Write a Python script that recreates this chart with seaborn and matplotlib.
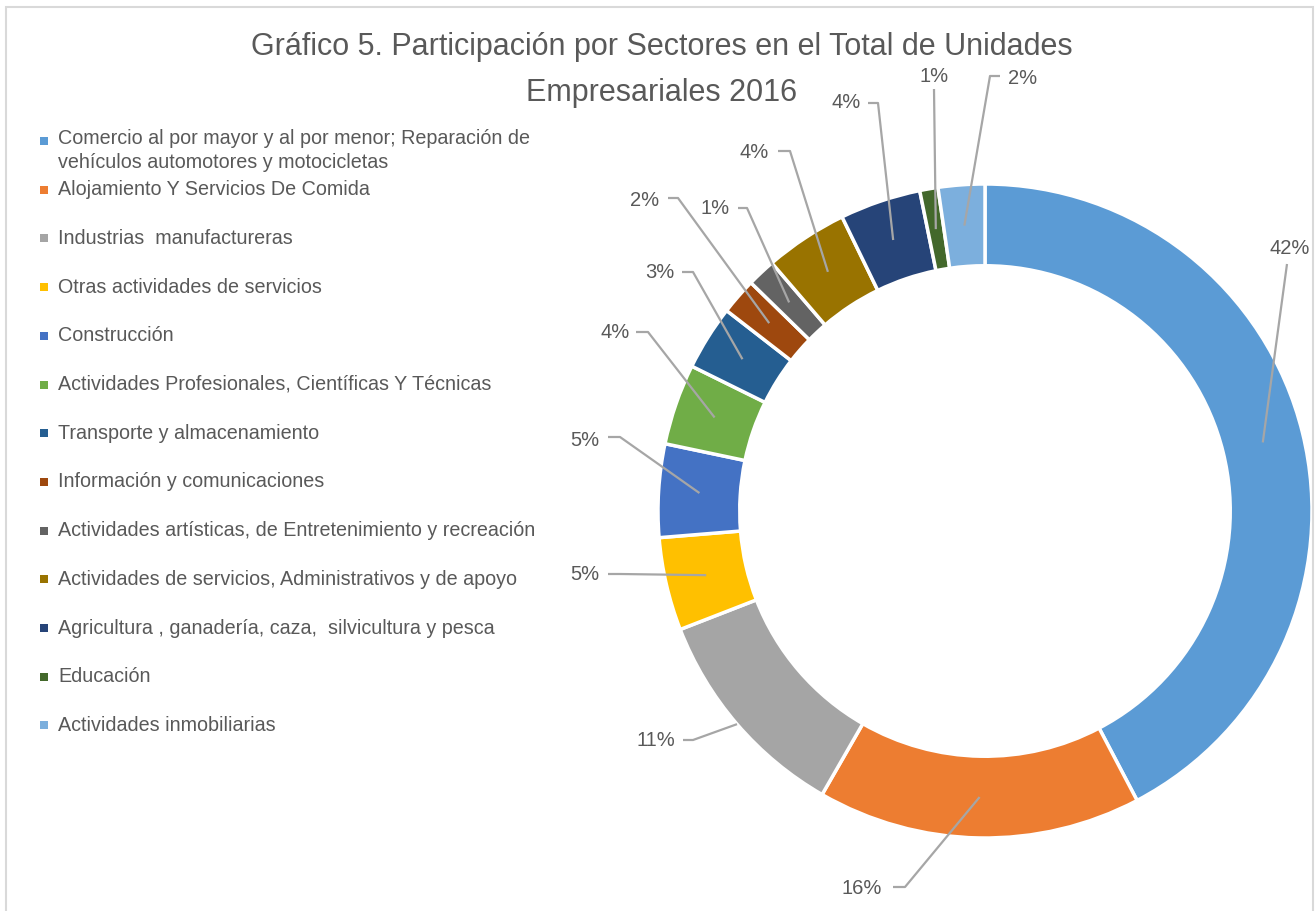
import matplotlib
matplotlib.use('Agg')
import matplotlib.pyplot as plt
from matplotlib import font_manager
from matplotlib.patches import Rectangle
import numpy as np
import seaborn as sns

sectores = [
    'Comercio al por mayor y al por menor; Reparación de\nvehículos automotores y motocicletas',
    'Alojamiento Y Servicios De Comida',
    'Industrias  manufactureras',
    'Otras actividades de servicios',
    'Construcción',
    'Actividades Profesionales, Científicas Y Técnicas',
    'Transporte y almacenamiento',
    'Información y comunicaciones',
    'Actividades artísticas, de Entretenimiento y recreación',
    'Actividades de servicios, Administrativos y de apoyo',
    'Agricultura , ganadería, caza,  silvicultura y pesca',
    'Educación',
    'Actividades inmobiliarias',
]
participacion = [42.3, 16.0, 10.8, 4.6, 4.6, 4.0, 3.2, 1.8, 1.4, 4.1, 4.0, 0.9, 2.3]
colores = ['#5B9BD5', '#ED7D31', '#A5A5A5', '#FFC000', '#4472C4', '#70AD47', '#255E91',
           '#9E480E', '#636363', '#997300', '#264478', '#43682B', '#7CAFDD']

titulo = ['Gráfico 5. Participación por Sectores en el Total de Unidades',
          'Empresariales 2016']

W, H = 1315, 911
CX, CY, R = 985, 511, 327   # centro y radio del anillo, en px
GRIS = '#595959'

names = {f.name for f in font_manager.fontManager.ttflist}
fuente = 'Liberation Sans Narrow' if 'Liberation Sans Narrow' in names else 'Liberation Sans'

sns.set_theme(style='white')
plt.rcParams['font.family'] = [fuente, 'DejaVu Sans']


def P(px, py):
    """px de la imagen -> unidades del pastel"""
    return (px - CX) / R, (CY - py) / R


# posición de etiquetas: texto, codo, fin del tramo horizontal, radio del ancla
etiquetas_layout = [
    ((1290, 248), (1287, 264), None, 0.875),
    ((862, 888), (905, 887), (893, 887), 0.875),
    ((656, 740), (693, 740), (683, 740), 1.0),
    ((585, 574), (620, 574), (608, 574), 0.875),
    ((585, 440), (620, 437), (608, 437), 0.875),
    ((615, 332), (648, 332), (636, 332), 0.875),
    ((660, 272), (693, 272), (682, 272), 0.875),
    ((645, 200), (678, 198), (668, 198), 0.875),
    ((715, 208), (747, 208), (738, 208), 0.875),
    ((754, 153), (790, 151), (778, 151), 0.875),
    ((846, 103), (878, 103), (868, 103), 0.875),
    ((934, 76), (934, 89), None, 0.875),
    ((1023, 78), (990, 76), (1000, 76), 0.875),
]

fig = plt.figure(figsize=(W / 100, H / 100), dpi=100)
ax = fig.add_axes([0, 0, 1, 1])
paleta = sns.color_palette(colores)

wedges, _ = ax.pie(participacion, colors=paleta, startangle=90, counterclock=False,
                   radius=1.0, wedgeprops=dict(width=0.25, edgecolor='white', linewidth=2.5))

ax.set_xlim(-CX / R, (W - CX) / R)
ax.set_ylim((CY - H) / R, CY / R)
ax.set_aspect('auto')
ax.axis('off')

total = sum(participacion)
for w, val, (txt, codo, tramo, r) in zip(wedges, participacion, etiquetas_layout):
    ang = np.deg2rad((w.theta1 + w.theta2) / 2)
    ancla = (r * np.cos(ang), r * np.sin(ang))
    pts = [ancla, P(*codo)]
    if tramo is not None:
        pts.append(P(*tramo))
    xs, ys = zip(*pts)
    ax.plot(xs, ys, color='#A6A6A6', lw=1.6, solid_capstyle='butt', zorder=3)
    tx, ty = P(*txt)
    ax.text(tx, ty, f'{round(val / total * 100):.0f}%', ha='center', va='center',
            fontsize=14.5, color=GRIS, zorder=4)

# titulo, una línea por texto
for linea, yl in zip(titulo, [47, 93]):
    fig.text(662 / W, 1 - yl / H, linea, ha='center', va='center', fontsize=22, color=GRIS)

# leyenda manual (columna izquierda)
y0, paso = 141, 48.7
for i, (lab, col) in enumerate(zip(sectores, paleta)):
    yc = y0 + paso * i
    fig.patches.append(Rectangle((40 / W, 1 - (yc + 4) / H), 8 / W, 8 / H,
                                 transform=fig.transFigure, facecolor=col,
                                 edgecolor='none', figure=fig))
    if '\n' in lab:
        fig.text(58 / W, 1 - (yc - 12) / H, lab, ha='left', va='top',
                 fontsize=14.2, color=GRIS, linespacing=1.35)
    else:
        fig.text(58 / W, 1 - yc / H, lab, ha='left', va='center',
                 fontsize=14.2, color=GRIS)

# marco del gráfico
fig.patches.append(Rectangle((6 / W, -0.05), (1313 - 6) / W, 1.05 - 7 / H,
                             transform=fig.transFigure, facecolor='none',
                             edgecolor='#D9D9D9', lw=1.5, figure=fig))

fig.savefig('out.png', dpi=100, facecolor='white')
